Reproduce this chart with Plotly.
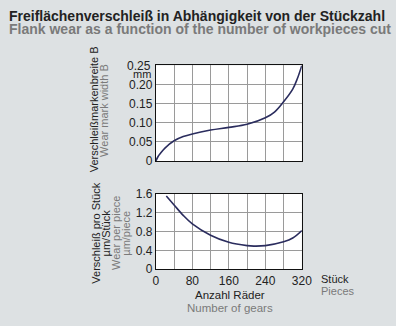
import plotly.graph_objects as go

# Data
x_wear = [0, 5, 10, 20, 40, 60, 80, 120, 160, 200, 240, 260, 280, 300, 310, 320]
y_wear = [0, 0.012, 0.02, 0.034, 0.053, 0.064, 0.071, 0.081, 0.088, 0.096, 0.113, 0.128, 0.155, 0.188, 0.215, 0.25]

x_piece = [23, 40, 60, 80, 120, 160, 200, 215, 240, 280, 300, 320]
y_piece = [1.55, 1.36, 1.14, 0.96, 0.72, 0.57, 0.50, 0.49, 0.50, 0.58, 0.66, 0.82]

x_grid = [0, 40, 80, 120, 160, 200, 240, 280, 320]
x_ticktext = ["0", "", "80", "", "160", "", "240", "", "320"]
y1_ticks = [0, 0.05, 0.10, 0.15, 0.20, 0.25]
y1_text = ["0", "0.05", "0.10", "0.15", "0.20", ""]
y2_ticks = [0, 0.4, 0.8, 1.2, 1.6]
y2_text = ["0", "0.4", "0.8", "1.2", "1.6"]

W, H = 396, 326
BG = "#dde1e3"
LINE = "#2b2d5e"
FONT = "Liberation Sans"
DARK = "#222222"
GRAY = "#7a7a7a"

fig = go.Figure()
fig.add_trace(go.Scatter(x=x_wear, y=y_wear, mode="lines", line=dict(color=LINE, width=1.6, shape="spline"),
                         xaxis="x", yaxis="y", showlegend=False, hoverinfo="skip"))
fig.add_trace(go.Scatter(x=x_piece, y=y_piece, mode="lines", line=dict(color=LINE, width=1.6, shape="spline"),
                         xaxis="x2", yaxis="y2", showlegend=False, hoverinfo="skip"))

def px(v):
    return v / W

def py(v):
    return 1 - v / H

axis_common = dict(showgrid=True, gridcolor="#9a9a9a", gridwidth=1, showline=True, linecolor="#111111",
                   linewidth=1, mirror=True, zeroline=False, ticks="", fixedrange=True,
                   tickfont=dict(family=FONT, size=12, color=DARK))

fig.update_layout(
    width=W, height=H, margin=dict(l=0, r=0, t=0, b=0),
    paper_bgcolor=BG, plot_bgcolor="white",
    xaxis=dict(domain=[px(158), px(309)], range=[0, 320], tickvals=x_grid, showticklabels=False,
               anchor="y", **axis_common),
    yaxis=dict(domain=[py(161), py(61)], range=[0, 0.25], tickvals=y1_ticks, ticktext=y1_text,
               anchor="x", **axis_common),
    xaxis2=dict(domain=[px(158), px(309)], range=[0, 320], tickvals=x_grid, ticktext=x_ticktext,
                anchor="y2", **axis_common),
    yaxis2=dict(domain=[py(274), py(195)], range=[0, 1.6], tickvals=y2_ticks, ticktext=y2_text,
                anchor="x2", **axis_common),
)

def ann(text, x, y, size=11, color=DARK, bold=False, angle=0, xanchor="left", yanchor="middle"):
    t = f"<b>{text}</b>" if bold else text
    fig.add_annotation(text=t, x=px(x), y=py(y), xref="paper", yref="paper", showarrow=False,
                       font=dict(family=FONT, size=size, color=color), textangle=angle,
                       xanchor=xanchor, yanchor=yanchor)

# Titles
ann("Freiflächenverschleiß in Abhängigkeit von der Stückzahl", 4, 9.5, size=14, color=DARK, bold=True)
ann("Flank wear as a function of the number of workpieces cut", 4, 23.5, size=14, color=GRAY, bold=True)

# Top y labels
ann("Verschleißmarkenbreite B", 94, 107, size=11, color=DARK, angle=-90, xanchor="center")
ann("Wear mark width B", 105, 108, size=11, color=GRAY, angle=-90, xanchor="center")
ann("0.25", 155.5, 62, size=12, color=DARK, xanchor="right")
ann("mm", 155.5, 70.5, size=11, color=DARK, xanchor="right")

# Bottom y labels
ann("Verschleiß pro Stück", 96, 236, size=11, color=DARK, angle=-90, xanchor="center")
ann("µm/Stück", 106, 236, size=11, color=DARK, angle=-90, xanchor="center")
ann("Wear per piece", 117, 236, size=11, color=GRAY, angle=-90, xanchor="center")
ann("µm/piece", 127, 236, size=11, color=GRAY, angle=-90, xanchor="center")

# Bottom x labels
ann("Stück", 327, 284, size=11, color=DARK)
ann("Pieces", 327, 297, size=11, color=GRAY)
ann("Anzahl Räder", 235, 301, size=11.5, color=DARK, xanchor="center")
ann("Number of gears", 235, 314, size=11.5, color=GRAY, xanchor="center")

fig.write_html("out.html")
